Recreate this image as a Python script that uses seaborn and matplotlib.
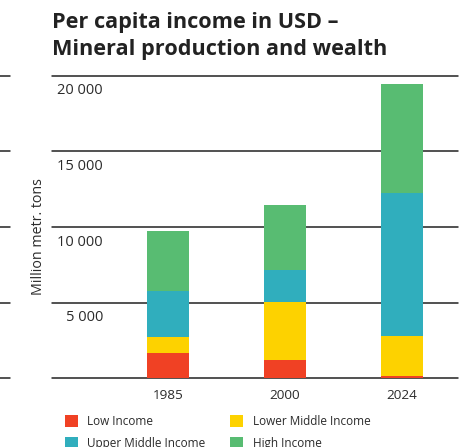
import numpy as np
import pandas as pd
import matplotlib
matplotlib.use('Agg')
import matplotlib.pyplot as plt
import seaborn as sns
from matplotlib.patches import Patch
from matplotlib.lines import Line2D

years = ['1985', '2000', '2024']
low_income = [1660, 1220, 170]
lower_middle = [1070, 3790, 2600]
upper_middle = [3060, 2165, 9510]
high_income = [3940, 4265, 7150]
series_names = ['Low Income', 'Lower Middle Income', 'Upper Middle Income', 'High Income']
colors = ['#F04124', '#FDD200', '#30AEBD', '#58BC72']
y_ticks = [5000, 10000, 15000, 20000]
y_tick_labels = ['5 000', '10 000', '15 000', '20 000']

sns.set_theme(style='white')
plt.rcParams['font.family'] = ['Open Sans', 'DejaVu Sans']
text_col = '#2b2b2b'

df = pd.DataFrame({'year': years, 'Low Income': low_income,
                   'Lower Middle Income': lower_middle,
                   'Upper Middle Income': upper_middle,
                   'High Income': high_income})

fig = plt.figure(figsize=(4.69, 4.47), dpi=100)
ax = fig.add_axes([52 / 469, 1 - 378.3 / 447, 406 / 469, 302.6 / 447])

# stacked bars, drawn with seaborn layer by layer (tallest cumulative first)
cum = df[series_names].cumsum(axis=1)
for name, col in reversed(list(zip(series_names, colors))):
    sns.barplot(x=df['year'], y=cum[name], color=col, width=0.36,
                saturation=1, ax=ax, linewidth=0)

ax.set_xlim(-0.99, 2.48)
ax.set_ylim(0, 20000)
for s in ax.spines.values():
    s.set_visible(False)
ax.set_yticks([])
ax.set_ylabel('')
ax.set_xlabel('')
ax.tick_params(axis='x', length=0, pad=8, labelsize=9.7, labelcolor=text_col)

for v in [0] + y_ticks:
    ax.axhline(v, color='#222222', lw=1.1, zorder=0, clip_on=False)
for v, lab in zip(y_ticks, y_tick_labels):
    ax.text(-0.555, v - 500, lab, ha='right', va='top', fontsize=10.5, color=text_col)

# little stubs from the neighbouring panel on the far left
for v in [0] + y_ticks:
    yf = ax.transData.transform((0, v))[1] / fig.bbox.height
    fig.add_artist(Line2D([0, 10 / 469], [yf, yf], color='#222222', lw=1.1))

fig.text(38.5 / 469, 1 - 237 / 447, 'Million metr. tons', rotation=90,
         ha='center', va='center', fontsize=10.3, color=text_col)

fig.text(52 / 469, 1 - 28 / 447, 'Per capita income in USD –',
         ha='left', va='baseline', fontsize=15.6, fontweight='bold', color='#222222')
fig.text(52 / 469, 1 - 55 / 447, 'Mineral production and wealth',
         ha='left', va='baseline', fontsize=15.6, fontweight='bold', color='#222222')

handles = [Patch(facecolor=c, edgecolor='none') for c in colors]
order = [0, 2, 1, 3]
leg = fig.legend([handles[i] for i in order], [series_names[i] for i in order],
                 ncol=2, loc='upper left', bbox_to_anchor=(65 / 469, 1 - 415 / 447),
                 frameon=False, fontsize=8.5, handlelength=1.1, handleheight=1.1,
                 columnspacing=2.1, labelspacing=0.75, handletextpad=0.8,
                 borderpad=0, borderaxespad=0)
for t in leg.get_texts():
    t.set_color(text_col)

fig.savefig('out.png', dpi=100)
